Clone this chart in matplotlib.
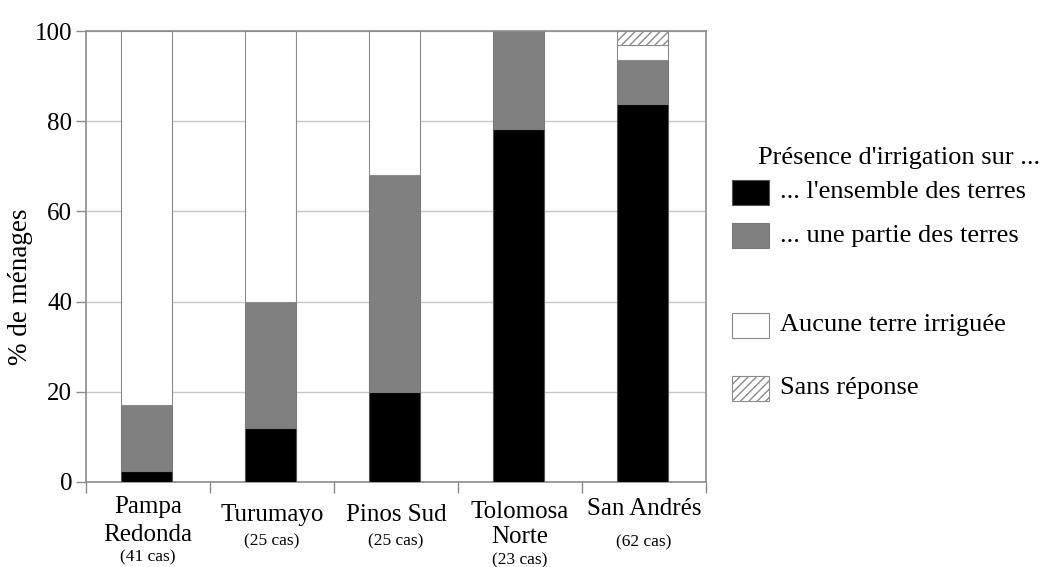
import matplotlib
matplotlib.use('Agg')
import matplotlib.pyplot as plt
import matplotlib.transforms as mtransforms
from matplotlib.patches import Rectangle
import numpy as np

plt.rcParams['font.family'] = ['Liberation Serif', 'DejaVu Serif']

# Data (% of households)
sites = [['Pampa', 'Redonda'], ['Turumayo'], ['Pinos Sud'], ['Tolomosa', 'Norte'], ['San Andrés']]
cases = ['(41 cas)', '(25 cas)', '(25 cas)', '(23 cas)', '(62 cas)']
all_land = [2.4, 12.0, 20.0, 78.3, 83.9]
part_land = [14.7, 28.0, 48.0, 21.7, 9.7]
no_land = [82.9, 60.0, 32.0, 0.0, 3.2]
no_answer = [0.0, 0.0, 0.0, 0.0, 3.2]

W, H = 1050, 567
fig = plt.figure(figsize=(W / 100, H / 100), dpi=100)
ax = fig.add_axes([86 / W, 1 - 482 / H, 620 / W, 451 / H])

x = np.arange(len(sites)) - 0.015
bw = 0.41
edge = '#8c8c8c'
ax.bar(x, all_land, bw, color='black', edgecolor='#555555', linewidth=0.8, zorder=3)
bottom = np.array(all_land)
ax.bar(x, part_land, bw, bottom=bottom, color='#808080', edgecolor='#7a7a7a', linewidth=0.8, zorder=3)
bottom = bottom + np.array(part_land)
ax.bar(x, no_land, bw, bottom=bottom, color='white', edgecolor=edge, linewidth=0.8, zorder=3)
bottom = bottom + np.array(no_land)
b4 = ax.bar(x, no_answer, bw, bottom=bottom, color='white', edgecolor=edge, linewidth=0.8,
            hatch='////', zorder=3)
for r, v in zip(b4, no_answer):
    if v == 0:
        r.set_visible(False)

ax.set_xlim(-0.5, len(sites) - 0.5)
ax.set_ylim(0, 100)
ax.set_yticks([0, 20, 40, 60, 80, 100])
ax.set_yticklabels(['0', '20', '40', '60', '80', '100'], fontsize=18)
ax.set_xticks(np.arange(len(sites) + 1) - 0.5)
ax.set_xticklabels([])
ax.tick_params(axis='x', length=8, color=edge, width=1)
ax.tick_params(axis='y', length=7, color=edge, width=1, pad=3)
ax.yaxis.grid(True, color='#c8c8c8', linewidth=1, zorder=0)
ax.set_axisbelow(True)
for s in ax.spines.values():
    s.set_color(edge)
    s.set_linewidth(1.2)
ax.set_ylabel('% de ménages', fontsize=19.5)
ax.yaxis.set_label_coords(-0.085, 0.432)

# Category labels below the axis (pixel rows of each line)
tr = mtransforms.blended_transform_factory(ax.transData, fig.transFigure)
name_rows = [[507, 535], [515], [515], [512, 537], [509]]
case_rows = [557, 541, 541, 560, 542]
for i in range(len(sites)):
    for line, yp in zip(sites[i], name_rows[i]):
        ax.text(i, 1 - yp / H, line, transform=tr, ha='center', va='center', fontsize=18)
    ax.text(i, 1 - case_rows[i] / H, cases[i], transform=tr, ha='center', va='center',
            fontsize=12.5)

# Legend drawn by hand
fig.text(758 / W, 1 - 158 / H, "Présence d'irrigation sur ...", fontsize=19,
         ha='left', va='center')
entries = [
    ("... l'ensemble des terres", 'black', '#555555', None, 192),
    ('... une partie des terres', '#808080', '#7a7a7a', None, 236),
    ('Aucune terre irriguée', 'white', edge, None, 325),
    ('Sans réponse', 'white', edge, '////', 388),
]
for label, fc, ec, hatch, yc in entries:
    fig.patches.append(Rectangle((732 / W, 1 - (yc + 12.5) / H), 37 / W, 25 / H,
                                 facecolor=fc, edgecolor=ec, hatch=hatch, linewidth=0.8,
                                 transform=fig.transFigure, figure=fig))
    fig.text(780 / W, 1 - yc / H, label, fontsize=19, ha='left', va='center')

fig.savefig('out.png', dpi=100, facecolor='white')
